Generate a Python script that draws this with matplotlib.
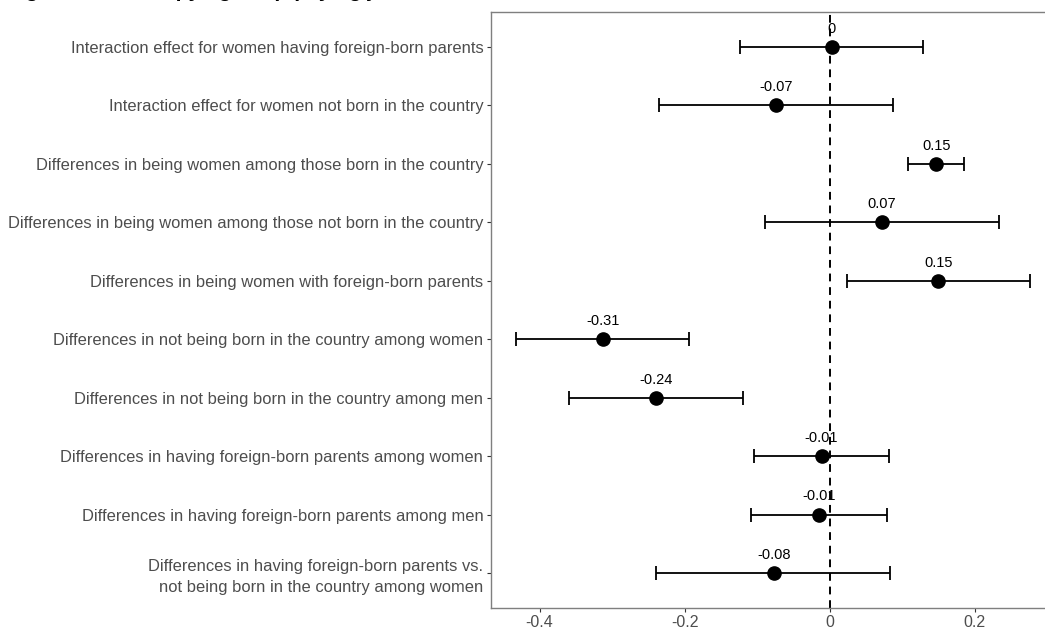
import matplotlib.pyplot as plt
import numpy as np

plt.rcParams['font.family'] = ['Liberation Sans', 'DejaVu Sans']

# Estimates and 95% intervals, listed top to bottom
terms = [
    "Interaction effect for women having foreign-born parents",
    "Interaction effect for women not born in the country",
    "Differences in being women among those born in the country",
    "Differences in being women among those not born in the country",
    "Differences in being women with foreign-born parents",
    "Differences in not being born in the country among women",
    "Differences in not being born in the country among men",
    "Differences in having foreign-born parents among women",
    "Differences in having foreign-born parents among men",
    "Differences in having foreign-born parents vs.\nnot being born in the country among women",
]
estimate = [0.003, -0.074, 0.147, 0.072, 0.150, -0.313, -0.240, -0.011, -0.014, -0.077]
conf_low = [-0.123, -0.235, 0.108, -0.089, 0.024, -0.432, -0.359, -0.104, -0.108, -0.239]
conf_high = [0.129, 0.087, 0.186, 0.234, 0.276, -0.194, -0.120, 0.082, 0.079, 0.084]
x_ticks = [-0.4, -0.2, 0, 0.2]
x_tick_labels = ["-0.4", "-0.2", "0", "0.2"]

title = "Log-odds of occupying a top-paying job"

est = np.array(estimate)
lo = np.array(conf_low)
hi = np.array(conf_high)
ypos = np.arange(len(terms))[::-1] + 1  # first term at the top

fig = plt.figure(figsize=(10.45, 6.3), dpi=100)
ax = fig.add_axes([491 / 1045, 22 / 630, 570 / 1045, 596 / 630])

ax.axvline(0, color='black', lw=1.4, ls=(0, (4, 3)), zorder=1)
ax.errorbar(est, ypos, xerr=[est - lo, hi - est], fmt='none', ecolor='black',
            elinewidth=1.3, capsize=5, capthick=1.3, zorder=2)
ax.plot(est, ypos, 'o', color='black', ms=9.5, zorder=3)

def fmt(v):
    r = round(v, 2)
    if r == 0:
        return "0"
    return f"{r:g}"

for v, y in zip(est, ypos):
    ax.text(v, y + 0.19, fmt(v), ha='center', va='bottom', fontsize=10.5, color='black')

ax.set_xlim(-0.467, -0.467 + 570 / 725)
ax.set_ylim(0.4, len(terms) + 0.6)
ax.set_yticks(ypos)
ax.set_yticklabels(terms, fontsize=11.9, color='#4D4D4D', ha='right',
                   multialignment='right', linespacing=1.45)
ax.set_xticks(x_ticks)
ax.set_xticklabels(x_tick_labels, fontsize=11.5, color='#4D4D4D')
ax.tick_params(axis='both', length=3, width=0.8, color='#333333', pad=2.5)
ax.tick_params(axis='x', pad=2)

for side in ['left', 'bottom', 'top', 'right']:
    ax.spines[side].set_color('#7F7F7F')
    ax.spines[side].set_linewidth(1.0)

# title sits mostly above the saved area
fig.text(0.0, 1.0055, title, fontsize=15, fontweight='bold', ha='left', va='baseline')

plt.savefig("out.png", dpi=100)
plt.close()
